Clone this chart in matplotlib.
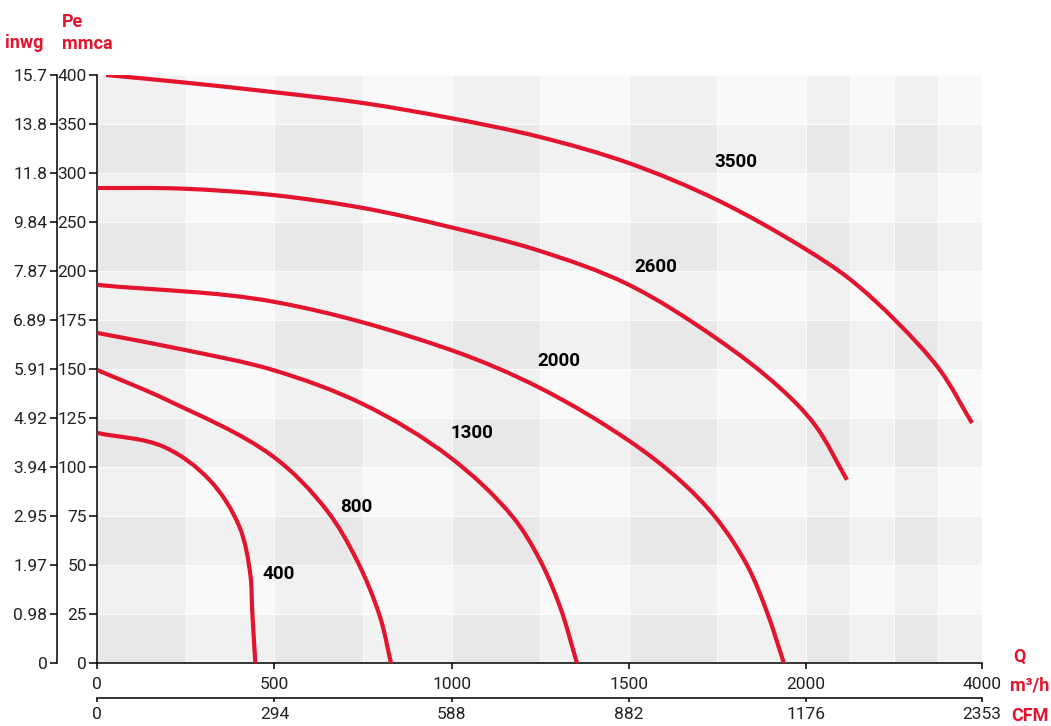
import matplotlib
matplotlib.use('Agg')
import matplotlib.pyplot as plt
import numpy as np
from matplotlib.colors import ListedColormap
from matplotlib.path import Path
from matplotlib.patches import PathPatch

RED = '#e3142d'
FONT = ['Roboto', 'DejaVu Sans']

# Fan curves: flow Q (m3/h) vs static pressure Pe (mmca)
q_400 = [0, 187, 317, 401, 432, 437, 446]
p_400 = [117.5, 110.5, 93.5, 69.7, 45.1, 27.3, 0]

q_800 = [0, 197, 497, 647, 732, 798, 829]
p_800 = [149.6, 134.3, 105.4, 78.2, 52.8, 23.7, 0]

q_1300 = [0, 248, 496, 750, 995, 1173, 1249, 1306, 1354]
p_1300 = [168.5, 159.8, 149.6, 132.2, 105.2, 74.6, 52.8, 28.8, 0]

q_2000 = [0, 498, 998, 1251, 1504, 1644, 1746, 1835, 1891, 1938]
p_2000 = [193, 184.4, 159.8, 140.3, 113.1, 93.4, 74.2, 49.7, 25.7, 0]

q_2600 = [0, 233, 496, 750, 995, 1249, 1495, 1749, 1927, 2102, 2466]
p_2600 = [284.8, 284.2, 277.6, 264.4, 245, 220.6, 193.5, 165.5, 140.4, 121.6, 93.6]

q_3500 = [25, 233, 496, 750, 995, 1249, 1500, 1749, 2011, 2500, 3035, 3524, 3889]
p_3500 = [400, 392.8, 382.6, 371.4, 356.2, 336.8, 310.2, 272.6, 221.6, 195.9, 174.1,
          149.6, 122.6]

curves = [(q_400, p_400), (q_800, p_800), (q_1300, p_1300),
          (q_2000, p_2000), (q_2600, p_2600), (q_3500, p_3500)]

# curve labels (rpm) and where they sit (Q, Pe)
rpm_labels = ['400', '800', '1300', '2000', '2600', '3500']
label_q = [513, 730, 1058, 1303, 1577, 1802]
label_p = [45.5, 80, 117.5, 154, 204, 311]

# axis ticks
q_ticks = [0, 500, 1000, 1500, 2000, 4000]
cfm_labels = ['0', '294', '588', '882', '1176', '2353']
p_ticks = [0, 25, 50, 75, 100, 125, 150, 175, 200, 250, 300, 350, 400]
inwg_labels = ['0', '0.98', '1.97', '2.95', '3.94', '4.92', '5.91', '6.89',
               '7.87', '9.84', '11.8', '13.8', '15.7']


# broken scales: x compressed above 2000, y compressed above 200
def fx(q):
    q = np.asarray(q, dtype=float)
    return np.where(q <= 2000, q, 2000 + (q - 2000) * 0.248)


def ix(u):
    u = np.asarray(u, dtype=float)
    return np.where(u <= 2000, u, 2000 + (u - 2000) / 0.248)


def fy(p):
    p = np.asarray(p, dtype=float)
    return np.where(p <= 200, p, 200 + (p - 200) * 0.5)


def iy(v):
    v = np.asarray(v, dtype=float)
    return np.where(v <= 200, v, 200 + (v - 200) * 2)


SX, SY = 0.3544, 1.9617  # rough pixels per scale unit, only used for tangent lengths


def smooth_path(q, p):
    # bezier path through the read points, tangents from neighbouring chords
    pts = np.column_stack([fx(q) * SX, fy(p) * SY])
    chords = np.diff(pts, axis=0)
    lens = np.hypot(chords[:, 0], chords[:, 1])
    units = chords / lens[:, None]
    tang = np.empty_like(pts)
    tang[0], tang[-1] = units[0], units[-1]
    mid = units[:-1] + units[1:]
    tang[1:-1] = mid / np.hypot(mid[:, 0], mid[:, 1])[:, None]
    verts = [pts[0]]
    codes = [Path.MOVETO]
    for k in range(len(pts) - 1):
        d = lens[k] / 3
        verts += [pts[k] + tang[k] * d, pts[k + 1] - tang[k + 1] * d, pts[k + 1]]
        codes += [Path.CURVE4] * 3
    verts = np.array(verts)
    return Path(np.column_stack([ix(verts[:, 0] / SX), iy(verts[:, 1] / SY)]), codes)


fig = plt.figure(figsize=(10.51, 7.26), dpi=100)
ax = fig.add_axes([0.0926, 0.0861, 0.8415, 0.8106])
ax.set_xscale('function', functions=(fx, ix))
ax.set_yscale('function', functions=(fy, iy))
ax.set_xlim(0, 4000)
ax.set_ylim(0, 400)

# checkered background
xe = np.r_[np.arange(0, 2000, 250), np.arange(2000, 4001, 500)]
ye = np.r_[np.arange(0, 200, 25), np.arange(200, 401, 50)]
ii, jj = np.meshgrid(np.arange(len(xe) - 1), np.arange(len(ye) - 1))
shade = (ii % 2 == 0).astype(int) + (jj % 2 == 0).astype(int)
cmap = ListedColormap(['#f9f9f9', '#f1f1f1', '#e8e8e8'])
ax.pcolormesh(xe, ye, shade, cmap=cmap, vmin=0, vmax=2,
              edgecolors='#fbfbfb', linewidth=0.5, zorder=0)

for q, p in curves:
    ax.add_patch(PathPatch(smooth_path(q, p), facecolor='none', edgecolor=RED,
                           lw=3, capstyle='butt', zorder=3))

for t, q, p in zip(rpm_labels, label_q, label_p):
    ax.text(q, p, t, ha='center', va='center', family=FONT, fontsize=13.5,
            fontweight='bold', color='black', zorder=4)

tick_font = dict(family=FONT, fontsize=12.5, color='#222222')

for s in ['top', 'right']:
    ax.spines[s].set_visible(False)
for s in ['left', 'bottom']:
    ax.spines[s].set_linewidth(1.1)
ax.set_xticks(q_ticks)
ax.set_xticklabels([str(v) for v in q_ticks], **tick_font)
ax.set_yticks(p_ticks)
ax.set_yticklabels([str(v) for v in p_ticks], **tick_font)
ax.tick_params(axis='y', length=6, width=1.1, pad=1.5)
ax.tick_params(axis='x', length=4, width=1.1, pad=6)

# inwg axis on the far left
ax_in = ax.twinx()
ax_in.set_yscale('function', functions=(fy, iy))
ax_in.set_ylim(0, 400)
ax_in.yaxis.tick_left()
ax_in.spines['left'].set_position(('outward', 29))
ax_in.spines['left'].set_linewidth(1.1)
for s in ['top', 'right', 'bottom']:
    ax_in.spines[s].set_visible(False)
ax_in.set_yticks(p_ticks)
ax_in.set_yticklabels(inwg_labels, **tick_font)
ax_in.tick_params(axis='y', length=5, width=1.1, pad=2)

# CFM axis below
ax_cfm = ax.twiny()
ax_cfm.set_xscale('function', functions=(fx, ix))
ax_cfm.set_xlim(0, 4000)
ax_cfm.xaxis.tick_bottom()
ax_cfm.spines['bottom'].set_position(('outward', 25))
ax_cfm.spines['bottom'].set_linewidth(1.1)
for s in ['top', 'right', 'left']:
    ax_cfm.spines[s].set_visible(False)
ax_cfm.set_xticks(q_ticks)
ax_cfm.set_xticklabels(cfm_labels, **tick_font)
ax_cfm.tick_params(axis='x', length=3, width=1.1, pad=3)

# unit labels
W, H = 1051, 726
unit = dict(va='center', color=RED, family=FONT, fontsize=13, fontweight='bold')
fig.text(5 / W, 1 - 43 / H, 'inwg', ha='left', **unit)
fig.text(62 / W, 1 - 22 / H, 'Pe', ha='left', **unit)
fig.text(62 / W, 1 - 44 / H, 'mmca', ha='left', **unit)
fig.text(1013 / W, 1 - 657 / H, 'Q', ha='left', **unit)
fig.text(1049 / W, 1 - 685 / H, 'm³/h', ha='right', **unit)
fig.text(1049 / W, 1 - 716 / H, 'CFM', ha='right', **unit)

fig.savefig('out.png', dpi=100)
